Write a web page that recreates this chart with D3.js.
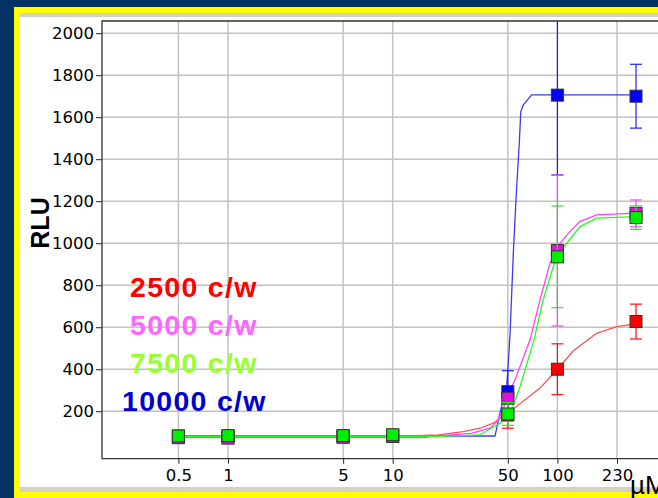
<!DOCTYPE html>
<html>
<head>
<meta charset="utf-8">
<script src="https://cdn.jsdelivr.net/npm/d3@7"></script>
<style>
  body { margin: 0; background: #033264; }
  svg { display: block; }
</style>
</head>
<body>
<script>
// doses (uM) and tick labels
const doses = [0.5, 1, 5, 10, 50, 100, 300];
const xTickValues = [0.5, 1, 5, 10, 50, 100, 230];
const yTickValues = [200, 400, 600, 800, 1000, 1200, 1400, 1600, 1800, 2000];
const seriesNames = ["2500 c/w", "5000 c/w", "7500 c/w", "10000 c/w"];

// measured RLU and error
const rlu2500 = [80, 80, 80, 86, 182, 400, 627];
const err2500 = [10, 10, 10, 10, 63, 121, 83];
const rlu5000 = [74, 72, 76, 80, 262, 965, 1142];
const err5000 = [12, 12, 12, 12, 20, 359, 64];
const rlu7500 = [82, 84, 84, 88, 187, 935, 1122];
const err7500 = [12, 12, 12, 12, 54, 242, 56];
const rlu10000 = [82, 80, 82, 84, 293, 1705, 1700];
const err10000 = [10, 10, 10, 10, 100, 380, 152];

// fitted curves [dose, RLU]
const fit2500 = [[0.5, 78], [10, 80], [18.9, 87], [26.8, 103], [33.9, 119], [40.8, 143], [44.8, 167], [50, 190],
  [78.4, 310], [100, 400], [125, 488], [173, 571], [229, 603], [300, 616]];
const fit5000 = [[0.5, 74], [16, 74], [17, 80], [30, 95], [39, 119], [43.8, 159], [47, 214], [51.6, 301], [55.2, 349],
  [68.2, 540], [78.4, 730], [90.2, 905], [100, 984], [119, 1055], [137, 1103], [173, 1135], [300, 1143]];
const fit7500 = [[0.5, 80], [20, 80], [33.9, 87], [44.8, 143], [52.8, 206], [59.3, 317], [72.1, 540], [81.9, 730],
  [94.4, 889], [100, 944], [137, 1079], [173, 1119], [300, 1127]];
const fit10000 = [[0.5, 82], [41.8, 82], [44.8, 192], [49.2, 316], [50.3, 430], [51.6, 572], [54, 954], [56.1, 1216],
  [57.4, 1349], [58.7, 1478], [59.9, 1625], [62.1, 1659], [69.8, 1706], [300, 1706]];

const width = 658;
const height = 498;

const svg = d3.select("body").append("svg")
  .attr("width", width)
  .attr("height", height);

// frame
svg.append("rect").attr("x", 0).attr("y", 0).attr("width", width).attr("height", height).attr("fill", "#033264");
svg.append("rect").attr("x", 14).attr("y", 7).attr("width", width - 14).attr("height", height - 7).attr("fill", "#ffff00");
svg.append("rect").attr("x", 20).attr("y", 13).attr("width", width - 20).attr("height", 479).attr("fill", "#d4d0c8");
svg.append("rect").attr("x", 20).attr("y", 17).attr("width", width - 20).attr("height", 470).attr("fill", "#ffffff");

const plotLeft = 102, plotTop = 21, plotBottom = 458.7;

const x = d3.scaleLog().domain([0.5, 230]).range([178.4, 617]);
const y = d3.scaleLinear().domain([-26, 2058]).range([plotBottom, plotTop]);

// grid
svg.append("g").selectAll("line").data(yTickValues).join("line")
  .attr("x1", plotLeft).attr("x2", width)
  .attr("y1", d => y(d)).attr("y2", d => y(d))
  .attr("stroke", "#c4c2bc").attr("stroke-width", 1.5);
svg.append("g").selectAll("line").data(xTickValues).join("line")
  .attr("x1", d => x(d)).attr("x2", d => x(d))
  .attr("y1", plotTop).attr("y2", plotBottom)
  .attr("stroke", "#c4c2bc").attr("stroke-width", 1.5);

// axes
const yAxis = svg.append("g")
  .attr("transform", `translate(${plotLeft},0)`)
  .call(d3.axisLeft(y).tickValues(yTickValues).tickSize(6).tickPadding(2).tickFormat(d3.format("d")));
yAxis.select(".domain").remove();
const xAxis = svg.append("g")
  .attr("transform", `translate(0,${plotBottom})`)
  .call(d3.axisBottom(x).tickValues(xTickValues).tickSize(5).tickPadding(6).tickFormat(d => d));
xAxis.select(".domain").remove();
svg.selectAll(".tick text")
  .attr("font-family", "DejaVu Sans, sans-serif")
  .attr("font-size", 16.5)
  .attr("fill", "#000");
svg.selectAll(".tick line").attr("stroke", "#222");

svg.append("path")
  .attr("d", `M${width},${plotTop}H${plotLeft}V${plotBottom}H${width}`)
  .attr("fill", "none").attr("stroke", "#333").attr("stroke-width", 1.3);

// series
const series = [
  { rlu: rlu10000, err: err10000, fit: fit10000, line: "#3b3bff", mark: "#0000ff", bar: "#2020ff" },
  { rlu: rlu2500, err: err2500, fit: fit2500, line: "#ff5050", mark: "#ff0000", bar: "#ff1010" },
  { rlu: rlu5000, err: err5000, fit: fit5000, line: "#ff40ff", mark: "#e010e0", bar: "#ff40ff" },
  { rlu: rlu7500, err: err7500, fit: fit7500, line: "#20ff20", mark: "#00ee00", bar: "#20ee20" }
];

const line = d3.line().x(d => x(d[0])).y(d => y(d[1]));
const plot = svg.append("g");

series.forEach(s => {
  plot.append("path")
    .attr("d", line(s.fit))
    .attr("fill", "none")
    .attr("stroke", s.line)
    .attr("stroke-width", 1.3);
});

series.forEach(s => {
  const g = plot.append("g");
  doses.forEach((dose, i) => {
    const cx = x(dose);
    const lo = Math.max(y(s.rlu[i] - s.err[i]), plotTop);
    const hi = Math.max(y(s.rlu[i] + s.err[i]), plotTop);
    g.append("line").attr("x1", cx).attr("x2", cx).attr("y1", lo).attr("y2", hi)
      .attr("stroke", s.bar).attr("stroke-width", 1.2);
    [s.rlu[i] - s.err[i], s.rlu[i] + s.err[i]].forEach(v => {
      if (y(v) > plotTop) {
        g.append("line").attr("x1", cx - 6).attr("x2", cx + 6).attr("y1", y(v)).attr("y2", y(v))
          .attr("stroke", s.bar).attr("stroke-width", 1.2);
      }
    });
    g.append("rect")
      .attr("x", cx - 6).attr("y", y(s.rlu[i]) - 6)
      .attr("width", 12).attr("height", 12)
      .attr("fill", s.mark)
      .attr("stroke", "#333").attr("stroke-width", 1);
  });
});

// legend text
const legendColors = ["#ff0000", "#ff66ff", "#99ff33", "#0000cc"];
const legendX = [130, 130, 130, 122];
svg.append("g").selectAll("text").data(seriesNames).join("text")
  .attr("x", (d, i) => legendX[i])
  .attr("y", (d, i) => 297 + i * 38)
  .attr("font-family", "Liberation Sans, Arial, sans-serif")
  .attr("font-weight", "bold")
  .attr("font-size", 28.5)
  .attr("letter-spacing", 1.3)
  .attr("fill", (d, i) => legendColors[i])
  .text(d => d);

// axis titles
svg.append("text")
  .attr("transform", "translate(49,223) rotate(-90)")
  .attr("text-anchor", "middle")
  .attr("font-family", "Liberation Sans, Arial, sans-serif")
  .attr("font-weight", "bold")
  .attr("font-size", 25)
  .attr("fill", "#000")
  .text("RLU");

svg.append("text")
  .attr("x", 630).attr("y", 494)
  .attr("font-family", "Liberation Sans, Arial, sans-serif")
  .attr("font-size", 26)
  .attr("fill", "#000")
  .text("µM");
</script>
</body>
</html>
